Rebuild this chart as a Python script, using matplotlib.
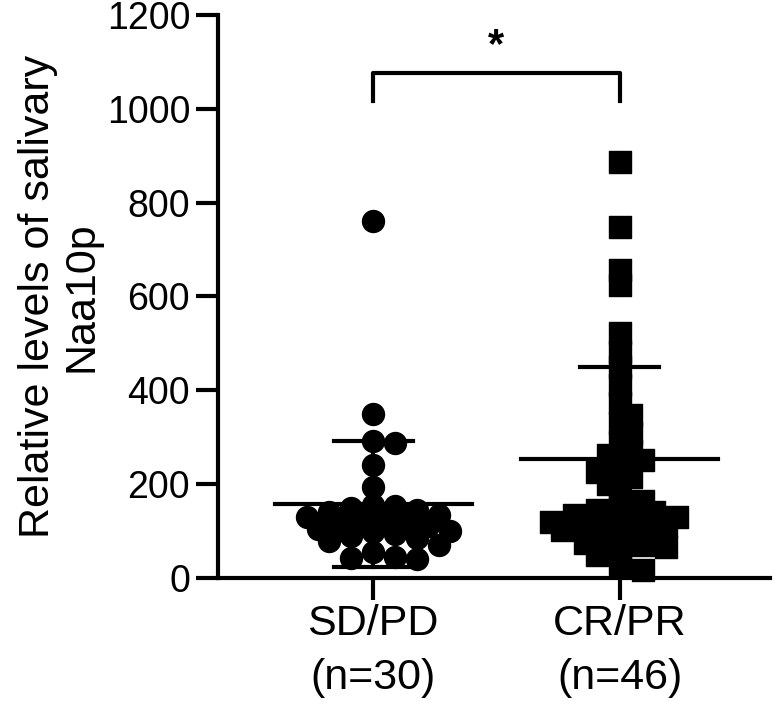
import numpy as np
import matplotlib
matplotlib.use("Agg")
import matplotlib.pyplot as plt

plt.rcParams['font.family'] = ['Liberation Sans', 'DejaVu Sans']

# data
groups = ["SD/PD\n(n=30)", "CR/PR\n(n=46)"]
sd_pd = [760, 350, 292, 288, 241, 194, 156, 153, 150, 145, 140, 135, 130, 128,
         124, 120, 115, 110, 105, 100, 98, 94, 90, 85, 80, 70, 55, 45, 43, 40]
cr_pr = [887, 748, 657, 625, 522, 482, 450, 411, 373, 348, 330, 310, 290, 270,
         262, 252, 240, 225, 215, 200, 181, 165, 151, 145, 140, 135, 130, 130,
         125, 120, 115, 113, 110, 105, 102, 98, 92, 88, 80, 75, 70, 66, 60, 50,
         30, 17]
means = [158, 254]
sds = [135, 196]
yticks = [0, 200, 400, 600, 800, 1000, 1200]


def swarm(ax, xc, values, diam_px, overlap=0.75):
    """Place points beside each other in pixel space, return data x."""
    to_px = ax.transData
    placed = []
    xs = []
    cx_px = to_px.transform((xc, 0))[0]
    step = diam_px * 0.5
    for v in values:
        py = to_px.transform((xc, v))[1]
        k = 0
        while True:
            off = ((k + 1) // 2) * step * (1 if k % 2 else -1) if k else 0
            px = cx_px + off
            ok = all((px - qx) ** 2 + (py - qy) ** 2 >= (diam_px * overlap) ** 2
                     for qx, qy in placed)
            if ok:
                break
            k += 1
        placed.append((px, py))
        xs.append(to_px.inverted().transform((px, py))[0])
    return xs


fig = plt.figure(figsize=(7.84, 7.05), dpi=100)
ax = fig.add_axes([0.278, 0.180, 0.704, 0.799])
ax.set_xlim(-0.63, 1.61)
ax.set_ylim(0, 1200)

xs0 = swarm(ax, 0, sd_pd, 22, 0.72)
xs1 = swarm(ax, 1, cr_pr, 23, 0.6)
ax.scatter(xs0, sd_pd, s=250, marker='o', color='black', clip_on=False, zorder=3)
ax.scatter(xs1, cr_pr, s=270, marker='s', color='black', clip_on=False, zorder=3)

# mean +/- SD
for i, (m, s) in enumerate(zip(means, sds)):
    ax.plot([i - 0.4, i + 0.4], [m, m], color='black', lw=3, zorder=4)
    ax.plot([i, i], [m - s, m + s], color='black', lw=3, zorder=4)
    for e in (m - s, m + s):
        ax.plot([i - 0.16, i + 0.16], [e, e], color='black', lw=3, zorder=4)

# significance bracket
ax.plot([0, 0, 1, 1], [1017, 1075, 1075, 1017], color='black', lw=3,
        clip_on=False)
ax.text(0.5, 1090, "*", ha='center', va='bottom', fontsize=30,
        fontweight='bold')

ax.set_xticks([0, 1])
ax.set_xticklabels(groups, fontsize=31, linespacing=1.45)
ax.set_yticks(yticks)
ax.tick_params(axis='y', labelsize=27, width=3, length=16, pad=4)
ax.tick_params(axis='x', width=3, length=16, pad=3)
ax.set_ylabel("Relative levels of salivary\nNaa10p", fontsize=31,
              linespacing=1.1, labelpad=4)
for sp in ['top', 'right']:
    ax.spines[sp].set_visible(False)
for sp in ['left', 'bottom']:
    ax.spines[sp].set_linewidth(3)

fig.savefig("out.png", dpi=100)
